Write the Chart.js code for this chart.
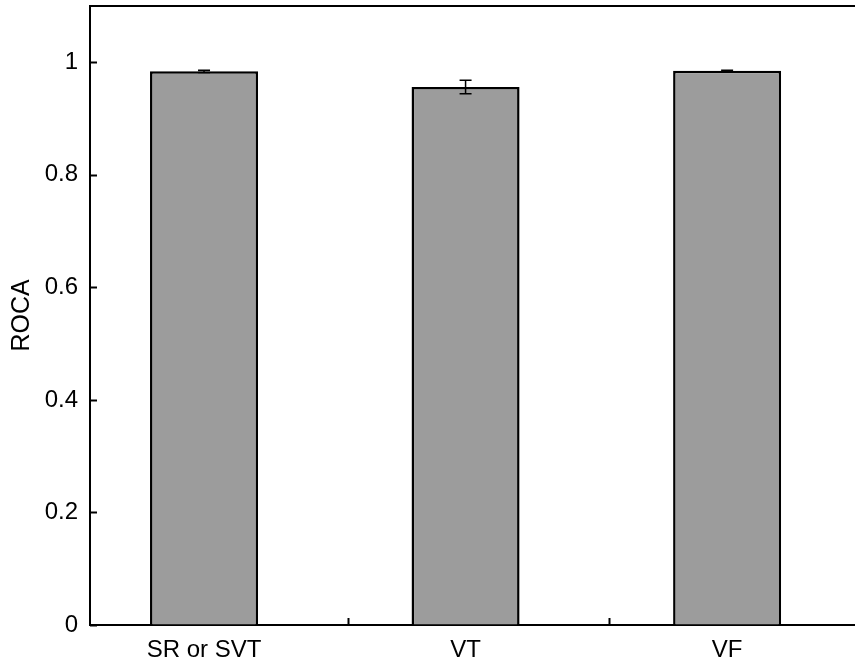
<!DOCTYPE html>
<html>
<head>
<meta charset="utf-8">
<script src="https://cdn.jsdelivr.net/npm/chart.js@4"></script>
<style>
  html, body { margin: 0; padding: 0; background: #fff; }
  #wrap { width: 855px; height: 666px; }
</style>
</head>
<body>
<div id="wrap"><canvas id="roc-chart"></canvas></div>
<script>
const categories = ["SR or SVT", "VT", "VF"];
const positions = [1, 2, 3];
const rocaValues = [0.984, 0.956, 0.985];
const rocaErrors = [0.002, 0.012, 0.001];
const yTicks = [0, 0.2, 0.4, 0.6, 0.8, 1];
const xMarks = [1.55, 2.55];

const points = positions.map((p, i) => ({ x: p, y: rocaValues[i] }));

// error bars + inward ticks + top frame line
const extras = {
  id: "extras",
  afterDatasetsDraw(chart) {
    const { ctx, chartArea, scales: { x, y } } = chart;
    ctx.save();
    ctx.strokeStyle = "#000";
    ctx.lineWidth = 2;
    ctx.beginPath();
    ctx.moveTo(chartArea.left, chartArea.top);
    ctx.lineTo(chartArea.right, chartArea.top);
    ctx.stroke();

    yTicks.forEach(v => {
      const py = Math.round(y.getPixelForValue(v)) + 0.5;
      ctx.beginPath();
      ctx.moveTo(chartArea.left, py);
      ctx.lineTo(chartArea.left + 7, py);
      ctx.stroke();
    });
    xMarks.forEach(v => {
      const px = Math.round(x.getPixelForValue(v)) + 0.5;
      ctx.beginPath();
      ctx.moveTo(px, chartArea.bottom);
      ctx.lineTo(px, chartArea.bottom - 7);
      ctx.stroke();
    });

    ctx.lineWidth = 1.5;
    positions.forEach((p, i) => {
      const px = x.getPixelForValue(p);
      const top = y.getPixelForValue(rocaValues[i] + rocaErrors[i]);
      const bot = y.getPixelForValue(rocaValues[i] - rocaErrors[i]);
      ctx.beginPath();
      ctx.moveTo(px, top); ctx.lineTo(px, bot);
      ctx.moveTo(px - 6, top); ctx.lineTo(px + 6, top);
      ctx.moveTo(px - 6, bot); ctx.lineTo(px + 6, bot);
      ctx.stroke();
    });
    ctx.restore();
  }
};

const family = "Liberation Sans, Arial";

new Chart(document.getElementById("roc-chart"), {
  type: "bar",
  data: {
    datasets: [{
      data: points,
      backgroundColor: "#9c9c9c",
      borderColor: "#000",
      borderWidth: 2.5,
      barPercentage: 0.413,
      categoryPercentage: 1
    }]
  },
  options: {
    responsive: true,
    maintainAspectRatio: false,
    animation: false,
    layout: { padding: { top: 6, right: 0, left: 0, bottom: 0 } },
    plugins: { legend: { display: false }, tooltip: { enabled: false } },
    scales: {
      x: {
        type: "linear",
        offset: false,
        min: 0.564,
        max: 3.489,
        afterBuildTicks: s => { s.ticks = positions.map(v => ({ value: v })); },
        afterFit: s => { s.height = 41; s.paddingLeft = 0; s.paddingRight = 0; },
        grid: { drawOnChartArea: false, drawTicks: false, offset: false },
        border: { display: true, color: "#000", width: 2 },
        ticks: {
          padding: 11,
          color: "#000",
          font: { family: family, size: 24 },
          maxRotation: 0,
          callback: v => categories[positions.indexOf(v)]
        }
      },
      y: {
        min: 0,
        max: 1.1,
        afterBuildTicks: s => { s.ticks = yTicks.map(v => ({ value: v })); },
        afterFit: s => { s.width = 90; s.paddingTop = 0; s.paddingBottom = 0; },
        grid: { drawOnChartArea: false, drawTicks: false },
        border: { display: true, color: "#000", width: 2 },
        title: {
          display: true,
          text: "ROCA",
          color: "#000",
          padding: { top: 7, bottom: 0 },
          font: { family: family, size: 25 }
        },
        ticks: {
          padding: 12,
          color: "#000",
          font: { family: family, size: 24 },
          callback: v => String(v)
        }
      }
    }
  },
  plugins: [extras]
});
</script>
</body>
</html>
